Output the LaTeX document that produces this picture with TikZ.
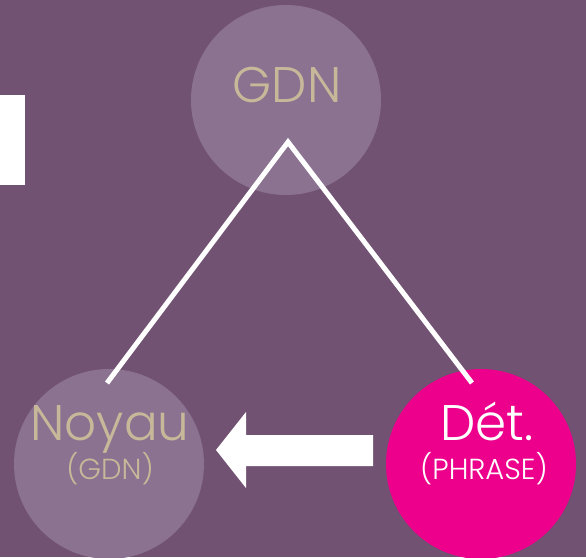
\documentclass[tikz,border=0pt]{standalone}
\usepackage{fontspec}
\setmainfont{Poppins Light}
\usepackage{xcolor}
\definecolor{Col1}{RGB}{114,82,114}
\definecolor{Col2}{RGB}{139,114,144}
\definecolor{Col3}{RGB}{236,0,140}
\definecolor{Col4}{RGB}{200,184,154}
\usetikzlibrary{arrows.meta}
\tikzstyle{Node}=[circle,fill=Col2,minimum size=190pt,inner sep=0pt]
\tikzstyle{NodeHot}=[circle,fill=Col3,minimum size=190pt,inner sep=0pt]
\tikzstyle{Big}=[anchor=base,text=Col4,font=\fontsize{50}{50}\selectfont]
\tikzstyle{Small}=[anchor=base,text=Col4,font=\fontsize{29}{29}\selectfont]
\tikzstyle{Edge}=[draw=white,line width=5pt,line cap=butt]

\begin{document}
\begin{tikzpicture}[x=1pt,y=-1pt]
        \fill[Col1](0,0)rectangle(586,557);
        \useasboundingbox(0,0)rectangle(586,557);
        \fill[white](0,95)rectangle(25,185);
        \node[Node](g)at(286,100){};
        \node[Node](n)at(109,464){};
        \node[NodeHot](d)at(481,464){};
        \node[Big](gt)at(287,102){GDN};
        \node[Big](nt)at(110,440){Noyau};
        \node[Small](ns)at(110,479){(GDN)};
        \node[Big,text=white](dt)at(487,440){Dét.};
        \node[Small,text=white](ds)at(484,479){(PHRASE)};
        \coordinate(top)at(288,142);
        \coordinate(left)at(107,383);
        \coordinate(right)at(472,383);
        \draw[Edge](left)--(top)--(right);
        \coordinate(tail)at(373,450);
        \coordinate(tip)at(216,450);
        \fill[white](tip)--(246,412)--(246,435)--(373,435)
            --(373,466)--(246,466)--(246,488)--cycle;
    \end{tikzpicture}
\end{document}
